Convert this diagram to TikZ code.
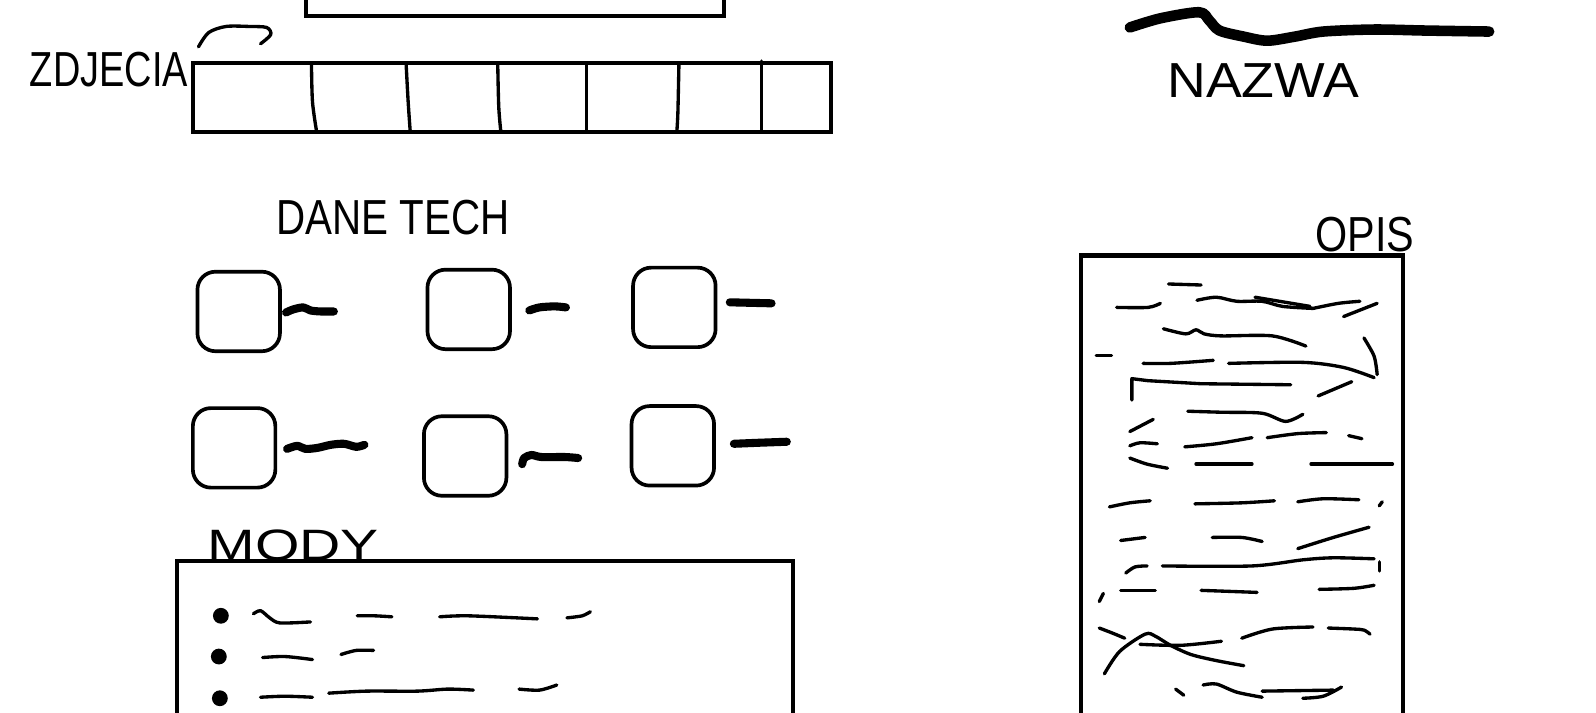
\documentclass[tikz,border=0pt]{standalone}
\usepackage{fontspec}
\setmainfont{Liberation Sans}
\usepackage{graphicx}
\newcommand{\pxu}{0.020357cm}

\begin{document}
\begin{tikzpicture}[
  x=0.020357cm, y=-0.020357cm,
  frame/.style={draw, line width=2.3pt, inner sep=0pt},
  chk/.style={draw, line width=2.1pt, rounded corners=0.36cm, inner sep=0pt,
              minimum width=1.65cm, minimum height=1.59cm},
  scrib/.style={line width=1.9pt, line cap=round, line join=round},
  fatline/.style={line width=4.6pt, line cap=round, line join=round},
  lbl/.style={inner sep=0pt, font=\fontsize{28}{30}\selectfont},
  dot/.style={circle, fill, inner sep=0pt, minimum size=9pt}]
  \useasboundingbox (0,0) rectangle (1568,700);
  \clip (0,0) rectangle (1568,700);

  % top part: picture area and thumbnails
  \node[frame, minimum width=410*\pxu, minimum height=60*\pxu] (hero) at (506,-14) {};
  \node[lbl] (zdj) at (107,68) {\scalebox{0.77}[1]{ZDJECIA}};
  \draw[scrib] plot[smooth] coordinates {(195,46) (205,32) (222,26) (245,26) (262,27) (266,34) (256,43)};
  \node[frame, minimum width=626*\pxu, minimum height=68*\pxu] (thumbs) at (503,96) {};
  \draw[scrib] plot[smooth] coordinates {(306,63) (307,100) (311,129)};
  \draw[scrib] plot[smooth] coordinates {(399,63) (401,100) (403,129)};
  \draw[scrib] plot[smooth] coordinates {(489,63) (490,105) (492,129)};
  \draw[scrib] (576,63) -- (576,129);
  \draw[scrib] plot[smooth] coordinates {(667,63) (666,110) (665,129)};
  \draw[scrib] (748,60) -- (748,129);

  % name
  \draw[line width=6pt, line cap=round, line join=round] plot[smooth] coordinates
    {(1110,27) (1140,18) (1178,12) (1188,20) (1198,30) (1222,36) (1245,40) (1272,36) (1300,31) (1350,29) (1400,30) (1463,31)};
  \node[lbl] (nazwa) at (1241,79) {\scalebox{1.09}[1]{NAZWA}};

  % technical data
  \node[lbl] (dane) at (386,214) {\scalebox{0.82}[1]{DANE TECH}};
  \node[chk] (chkA) at (234.5,306) {};
  \node[chk] (chkB) at (460.5,304) {};
  \node[chk] (chkC) at (662.5,302) {};
  \node[chk] (chkD) at (230,440) {};
  \node[chk] (chkE) at (457,448) {};
  \node[chk] (chkF) at (661,438) {};
  \draw[fatline] plot[smooth] coordinates {(281,307) (288,304) (298,302) (305,305) (315,306) (328,306)};
  \draw[fatline] plot[smooth] coordinates {(520,305) (530,302) (545,301) (556,302)};
  \draw[fatline] (717,297) -- (758,298);
  \draw[fatline] plot[smooth] coordinates {(282,441) (292,438) (300,441) (312,440) (325,437) (338,436) (350,439) (358,437)};
  \draw[fatline] plot[smooth] coordinates {(513,456) (515,450) (522,447) (532,449) (555,449) (568,450)};
  \draw[fatline] plot[smooth] coordinates {(721,436) (745,435) (773,434)};

  % modes
  \node[lbl, anchor=south, font=\fontsize{25}{27}\selectfont] (mody) at (288,551) {\scalebox{1.3}[1]{MODY}};
  \node[frame, minimum width=605*\pxu, minimum height=220*\pxu] (modes) at (476.5,661) {};
  \node[dot] (m1) at (217,605) {};
  \node[dot] (m2) at (215,645) {};
  \node[dot] (m3) at (216,686) {};
  \draw[scrib] plot[smooth] coordinates {(249,603) (256,600) (265,607) (275,612) (305,611)};
  \draw[scrib] plot[smooth] coordinates {(351,605) (368,605) (385,606)};
  \draw[scrib] plot[smooth] coordinates {(432,606) (460,605) (528,608)};
  \draw[scrib] plot[smooth] coordinates {(557,607) (572,605) (580,601)};
  \draw[scrib] plot[smooth] coordinates {(258,646) (280,645) (307,648)};
  \draw[scrib] plot[smooth] coordinates {(335,643) (350,639) (367,639)};
  \draw[scrib] plot[smooth] coordinates {(256,685) (280,684) (307,685)};
  \draw[scrib] plot[smooth] coordinates {(323,681) (360,679) (410,679) (440,677) (465,678)};
  \draw[scrib] plot[smooth] coordinates {(510,677) (530,678) (547,673)};

  % description
  \node[lbl, anchor=south] (opis) at (1341,248) {\scalebox{0.84}[1]{OPIS}};
  \node[frame, minimum width=316*\pxu, minimum height=500*\pxu] (desc) at (1220,501) {};
  \draw[scrib] (1148,279) -- (1180,280);
  \draw[scrib] plot[smooth] coordinates {(1097,302) (1128,302) (1140,298)};
  \draw[scrib] plot[smooth] coordinates {(1176,295) (1195,292) (1215,296) (1240,296) (1260,301) (1290,303)};
  \draw[scrib] (1233,292) -- (1287,301);
  \draw[scrib] plot[smooth] coordinates {(1290,303) (1315,298) (1336,296)};
  \draw[scrib] (1320,311) -- (1353,298);
  \draw[scrib] plot[smooth] coordinates {(1143,323) (1165,328) (1175,324) (1183,328) (1200,330) (1250,330) (1283,340)};
  \draw[scrib] (1077,349) -- (1092,349);
  \draw[scrib] plot[smooth] coordinates {(1123,357) (1150,357) (1192,354)};
  \draw[scrib] plot[smooth] coordinates {(1207,357) (1280,356) (1320,361) (1350,371)};
  \draw[scrib] plot[smooth] coordinates {(1340,332) (1350,350) (1353,368)};
  \draw[scrib] plot coordinates {(1112,393) (1112,372) (1128,374) (1180,377) (1268,378)};
  \draw[scrib] (1295,389) -- (1328,375);
  \draw[scrib] plot[smooth] coordinates {(1167,404) (1200,405) (1240,406) (1263,414) (1280,407)};
  \draw[scrib] (1110,424) -- (1133,412);
  \draw[scrib] plot[smooth] coordinates {(1110,438) (1120,435) (1137,436)};
  \draw[scrib] plot[smooth] coordinates {(1164,439) (1195,436) (1230,430)};
  \draw[scrib] plot[smooth] coordinates {(1245,430) (1275,426) (1303,425)};
  \draw[scrib] (1325,428) -- (1338,431);
  \draw[scrib] plot[smooth] coordinates {(1110,450) (1127,456) (1147,460)};
  \draw[scrib] (1175,456) -- (1230,456);
  \draw[scrib] (1288,456) -- (1368,456);
  \draw[scrib] plot[smooth] coordinates {(1090,498) (1110,494) (1130,492)};
  \draw[scrib] plot[smooth] coordinates {(1174,495) (1220,494) (1252,492)};
  \draw[scrib] plot[smooth] coordinates {(1275,493) (1300,490) (1335,491)};
  \draw[scrib] (1355,497) -- (1358,493);
  \draw[scrib] (1101,531) -- (1125,528);
  \draw[scrib] plot[smooth] coordinates {(1191,528) (1220,528) (1240,532)};
  \draw[scrib] plot[smooth] coordinates {(1275,539) (1310,528) (1345,518)};
  \draw[scrib] plot[smooth] coordinates {(1106,563) (1115,557) (1127,556)};
  \draw[scrib] plot[smooth] coordinates {(1142,556) (1230,556) (1280,550) (1310,548) (1350,549)};
  \draw[scrib] (1355,552) -- (1355,561);
  \draw[scrib] (1101,580) -- (1135,580);
  \draw[scrib] plot[smooth] coordinates {(1180,580) (1208,581) (1235,582)};
  \draw[scrib] plot[smooth] coordinates {(1296,579) (1330,578) (1350,575)};
  \draw[scrib] (1080,591) -- (1084,583);
  \draw[scrib] plot[smooth] coordinates {(1080,617) (1093,622) (1105,627)};
  \draw[scrib] plot[smooth] coordinates {(1085,662) (1100,640) (1125,623) (1135,625) (1150,634) (1170,643) (1195,649) (1222,654)};
  \draw[scrib] plot[smooth] coordinates {(1120,633) (1160,634) (1200,630)};
  \draw[scrib] plot[smooth] coordinates {(1220,627) (1250,618) (1290,616)};
  \draw[scrib] plot[smooth] coordinates {(1305,617) (1330,618) (1340,619) (1346,623)};
  \draw[scrib] (1155,677) -- (1163,683);
  \draw[scrib] plot[smooth] coordinates {(1182,673) (1195,672) (1215,680) (1240,685)};
  \draw[scrib] (1240,679) -- (1310,678);
  \draw[scrib] plot[smooth] coordinates {(1280,686) (1300,684) (1318,675)};
\end{tikzpicture}
\end{document}
